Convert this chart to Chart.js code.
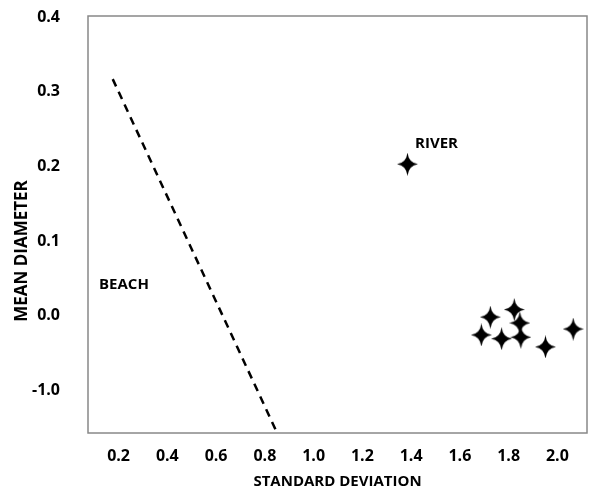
<!DOCTYPE html>
<html>
<head>
<meta charset="utf-8">
<script src="https://cdn.jsdelivr.net/npm/chart.js@4/dist/chart.umd.min.js"></script>
<style>
  html, body { margin: 0; padding: 0; background: #fff; }
  #wrap { width: 598px; height: 493px; }
</style>
</head>
<body>
<div id="wrap"><canvas id="chart"></canvas></div>
<script>
// sample points (standard deviation, mean diameter)
const sampleX = [1.385, 1.725, 1.823, 1.846, 1.688, 1.771, 1.850, 1.951, 2.065];
const sampleY = [0.203, -0.002, 0.008, -0.010, -0.026, -0.031, -0.029, -0.042, -0.018];

// dashed boundary line between the two fields
const boundaryX = [0.176, 0.850];
const boundaryY = [0.317, -0.157];

// axis ticks
const xTicks = [0.2, 0.4, 0.6, 0.8, 1.0, 1.2, 1.4, 1.6, 1.8, 2.0];
const xTickLabels = ['0.2', '0.4', '0.6', '0.8', '1.0', '1.2', '1.4', '1.6', '1.8', '2.0'];
const yTicks = [0.4, 0.3, 0.2, 0.1, 0.0, -0.1];
const yTickLabels = ['0.4', '0.3', '0.2', '0.1', '0.0', '-1.0'];

// field labels
const fieldNames = ['RIVER', 'BEACH'];
const fieldX = [1.504, 0.222];
const fieldY = [0.230, 0.041];

const FONT = '"Open Sans", Lato, sans-serif';

function makeStar(w, h) {
  const c = document.createElement('canvas');
  c.width = w;
  c.height = h;
  const g = c.getContext('2d');
  const cx = w / 2, cy = h / 2, k = 1.3;
  g.fillStyle = '#000';
  g.beginPath();
  g.moveTo(cx, 0);
  g.quadraticCurveTo(cx + k, cy - k, w, cy);
  g.quadraticCurveTo(cx + k, cy + k, cx, h);
  g.quadraticCurveTo(cx - k, cy + k, 0, cy);
  g.quadraticCurveTo(cx - k, cy - k, cx, 0);
  g.fill();
  return c;
}

const star = makeStar(21, 23);

const extras = {
  id: 'extras',
  afterDraw(chart) {
    const { ctx, chartArea: a, scales } = chart;
    ctx.save();
    // plot frame
    ctx.strokeStyle = '#888';
    ctx.lineWidth = 1.5;
    ctx.strokeRect(a.left, a.top, a.right - a.left, a.bottom - a.top);
    // field labels
    ctx.fillStyle = '#000';
    ctx.font = 'bold 15px ' + FONT;
    ctx.textAlign = 'center';
    ctx.textBaseline = 'middle';
    fieldNames.forEach((name, i) => {
      ctx.fillText(name, scales.x.getPixelForValue(fieldX[i]), scales.y.getPixelForValue(fieldY[i]));
    });
    // y axis title
    ctx.font = 'bold 17px ' + FONT;
    ctx.translate(22, 251);
    ctx.rotate(-Math.PI / 2);
    ctx.fillText('MEAN DIAMETER', 0, 0);
    ctx.restore();
  }
};

new Chart(document.getElementById('chart'), {
  type: 'scatter',
  data: {
    datasets: [
      {
        data: boundaryX.map((x, i) => ({ x: x, y: boundaryY[i] })),
        showLine: true,
        borderColor: '#000',
        borderWidth: 2.5,
        borderDash: [8, 6],
        pointRadius: 0,
        fill: false,
      },
      {
        data: sampleX.map((x, i) => ({ x: x, y: sampleY[i] })),
        pointStyle: star,
        pointRadius: 10,
        showLine: false,
      },
    ],
  },
  options: {
    responsive: true,
    maintainAspectRatio: false,
    animation: false,
    layout: { padding: { top: 16, right: 3, left: 0, bottom: 0 } },
    plugins: {
      legend: { display: false },
      tooltip: { enabled: false },
    },
    scales: {
      x: {
        type: 'linear',
        min: 0.0746,
        max: 2.1214,
        grid: { display: false, drawTicks: false },
        border: { display: false },
        afterBuildTicks: (scale) => { scale.ticks = xTicks.map((v) => ({ value: v })); },
        afterFit: (scale) => { scale.height = 60; scale.paddingLeft = 0; scale.paddingRight = 0; },
        ticks: {
          padding: 14,
          color: '#000',
          font: { family: FONT, size: 16, weight: 'bold' },
          callback: (v) => xTickLabels[xTicks.indexOf(v)],
        },
        title: {
          display: true,
          text: 'STANDARD DEVIATION',
          color: '#000',
          font: { family: FONT, size: 15, weight: 'bold' },
          padding: { top: 0, bottom: 2 },
        },
      },
      y: {
        type: 'linear',
        min: -0.1574,
        max: 0.4016,
        grid: { display: false, drawTicks: false },
        border: { display: false },
        afterBuildTicks: (scale) => { scale.ticks = yTicks.map((v) => ({ value: v })); },
        afterFit: (scale) => { scale.width = 88; scale.paddingTop = 0; scale.paddingBottom = 0; },
        ticks: {
          padding: 28,
          color: '#000',
          font: { family: FONT, size: 16, weight: 'bold' },
          callback: (v) => yTickLabels[yTicks.indexOf(v)],
        },
      },
    },
  },
  plugins: [extras],
});
</script>
</body>
</html>
